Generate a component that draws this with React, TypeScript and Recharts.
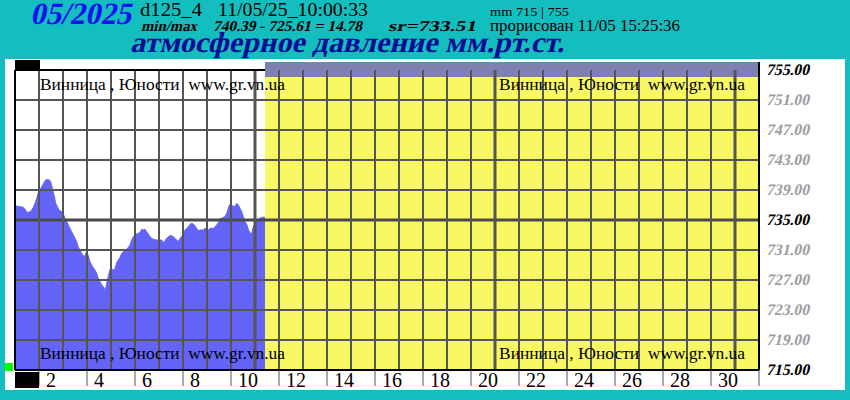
import React from 'react';
import { ComposedChart, Area, XAxis, YAxis, ReferenceArea, ReferenceLine } from 'recharts';

// hours elapsed since 1 May 00:00
const HOURS = [
  1, 5, 8.3, 10, 12.3, 15, 16.7, 18.3, 20, 21.7,
  23.3, 25, 26.7, 28.3, 30, 31.7, 34.3, 35.7, 37.3, 39,
  40.7, 42.3, 44, 46.7, 48.3, 50, 51.7, 53.3, 55, 56.7,
  58.3, 60, 61.7, 63.3, 65, 66.7, 68.3, 70, 71.7, 73.3,
  75, 76.7, 78.3, 80, 81.7, 83.3, 85, 86.7, 88.3, 90.3,
  91.7, 93.3, 95, 96.7, 98.3, 100, 101.7, 103.3, 105, 106.7,
  108.3, 110, 111.7, 113.3, 115, 116.7, 118.3, 120, 121.7, 123.3,
  125, 126.7, 128.3, 130, 131.7, 133.3, 135, 136.7, 138.3, 141.7,
  146.7, 148.3, 150, 151.7, 153.3, 155, 156.7, 158.3, 160, 161.7,
  163.3, 165, 166.7, 168.3, 170, 171.7, 173.3, 175, 176.7, 178.3,
  180, 181.7, 183.3, 185, 188.3, 190, 191.7, 193.3, 195, 198.3,
  200, 201.7, 203.3, 205, 206.7, 208.3, 210, 211.7, 213.3, 215,
  216.7, 218.3, 220, 221.7, 223.3, 225, 226.7, 228.3, 230, 231.7,
  233.3, 235, 236.7, 238.3, 240, 241.7, 243.3, 245, 246.7, 250,
];

// pressure, mm Hg
const PRESSURE = [
  736.87, 736.78, 736.69, 736.42, 735.98, 736.11, 736.33, 736.69, 737.22, 737.89,
  738.64, 739.0, 739.44, 739.8, 740.24, 740.39, 740.35, 740.11, 739.22, 738.33,
  737.22, 736.78, 736.33, 736.11, 735.8, 735.22, 734.78, 734.33, 733.89, 733.44,
  733.0, 732.56, 732.11, 731.36, 731.0, 730.56, 730.2, 730.2, 730.87, 730.2,
  729.44, 729.0, 728.64, 728.33, 727.89, 727.22, 726.78, 726.33, 726.11, 725.61,
  726.56, 727.53, 728.42, 728.47, 728.33, 728.47, 729.31, 729.67, 730.02, 730.56,
  730.78, 731.0, 731.09, 731.36, 731.67, 732.33, 732.78, 733.0, 733.13, 733.22,
  733.31, 733.76, 733.67, 733.76, 733.44, 733.13, 732.78, 732.56, 732.42, 732.33,
  732.33, 731.98, 732.24, 732.56, 732.78, 732.91, 732.91, 732.78, 732.56, 732.33,
  732.11, 732.56, 732.78, 733.22, 733.67, 733.89, 734.11, 734.42, 734.56, 734.47,
  734.2, 733.89, 733.58, 733.67, 733.67, 733.89, 733.76, 733.67, 733.89, 733.89,
  734.11, 734.33, 734.64, 735.22, 735.22, 735.36, 735.44, 735.89, 736.56, 737.13,
  736.87, 736.87, 736.78, 737.22, 737.0, 736.56, 736.11, 735.44, 734.78, 734.42,
  733.76, 733.22, 733.22, 734.11, 734.56, 735.0, 735.09, 735.22, 735.36, 735.36,
];

const DAY_LABELS = [2, 4, 6, 8, 10, 12, 14, 16, 18, 20, 22, 24, 26, 28, 30, 32];
const Y_TICKS = [715, 719, 723, 727, 731, 735, 739, 743, 747, 751, 755];
const Y_STRONG = [715, 735, 755];
const DAY_BOUNDARIES = Array.from({ length: 30 }, (_, i) => i + 1);
const H_GRID = [719, 723, 727, 731, 739, 743, 747, 751];
const MONTH_HOURS = 744;
const LAST_HOUR = 250;
const Y_MIN = 715;
const Y_MAX = 755;
const BAND_TOP = 756.07;
const BAND_BOTTOM = 754.07;
const LOCATION = 'Винница , Юности  www.gr.vn.ua';

const data = HOURS.map((h, i) => ({ h, p: PRESSURE[i] }));

const SERIF = "'Liberation Serif', 'Times New Roman', serif";
const GRID = '#555555';

// bold serif with a synthetic slant (italic look)
const BI = (p: { x: number; y: number; size: number; fill: string; len?: number; children: React.ReactNode }) => (
  <text
    transform={`translate(${p.x},${p.y}) skewX(-13)`}
    x={0}
    y={0}
    fontFamily={SERIF}
    fontSize={p.size}
    fontWeight="bold"
    fill={p.fill}
    textLength={p.len}
    lengthAdjust={p.len ? 'spacingAndGlyphs' : undefined}
  >
    {p.children}
  </text>
);

const XTick = (props: any) => {
  const { x, y, payload } = props;
  const day = payload.value / 24 + 1;
  return (
    <g>
      <line x1={x} x2={x} y1={y} y2={y + 16} stroke={GRID} strokeWidth={1} />
      {day <= 31 && (
        <text x={x + 7} y={y + 16.5} fontFamily={SERIF} fontSize={20} fill="#000">
          {day}
        </text>
      )}
    </g>
  );
};

const YTick = (props: any) => {
  const { x, y, payload } = props;
  const strong = Y_STRONG.includes(payload.value);
  return (
    <BI x={x + 7} y={y + 5} size={16} fill={strong ? '#000' : '#A0A0A0'} len={43}>
      {payload.value.toFixed(2)}
    </BI>
  );
};

export default function App() {
  return (
    <div
      style={{
        position: 'absolute',
        left: 0,
        top: 0,
        width: 850,
        height: 400,
        background: '#14BEBE',
        overflow: 'hidden',
      }}
    >
      <div style={{ position: 'absolute', left: 5, top: 59, width: 840, height: 331, background: '#fff' }} />
      <div style={{ position: 'absolute', left: 0, top: 0 }}>
        <ComposedChart
          width={850}
          height={400}
          data={data}
          margin={{ top: 70, right: 31, bottom: 0, left: 15 }}
        >
          <XAxis
            dataKey="h"
            type="number"
            domain={[0, MONTH_HOURS]}
            ticks={DAY_LABELS.map((d) => (d - 1) * 24)}
            interval={0}
            height={30}
            tickSize={0}
            tickMargin={0}
            tickLine={false}
            axisLine={{ stroke: '#000', strokeWidth: 2 }}
            tick={<XTick />}
            allowDataOverflow
          />
          <YAxis
            orientation="right"
            type="number"
            domain={[Y_MIN, Y_MAX]}
            ticks={Y_TICKS}
            interval={0}
            width={60}
            tickSize={0}
            tickMargin={0}
            tickLine={false}
            axisLine={false}
            tick={<YTick />}
            allowDataOverflow
          />
          <ReferenceArea
            x1={LAST_HOUR}
            x2={MONTH_HOURS}
            y1={Y_MIN}
            y2={Y_MAX}
            fill="#F8F864"
            fillOpacity={1}
            stroke="none"
            ifOverflow="hidden"
          />
          <Area
            dataKey="p"
            type="linear"
            fill="#6464F8"
            fillOpacity={1}
            stroke="#6464F8"
            strokeWidth={1}
            isAnimationActive={false}
            dot={false}
            activeDot={false}
          />
          <ReferenceArea
            x1={LAST_HOUR}
            x2={MONTH_HOURS}
            y1={BAND_BOTTOM}
            y2={BAND_TOP}
            fill="#8080B0"
            fillOpacity={1}
            stroke="none"
            ifOverflow="visible"
          />
          {H_GRID.map((v) => (
            <ReferenceLine
              key={'h' + v}
              segment={[{ x: 0, y: v }, { x: MONTH_HOURS, y: v }]}
              stroke={GRID}
              strokeWidth={2}
            />
          ))}
          <ReferenceLine
            segment={[{ x: 0, y: 735 }, { x: MONTH_HOURS, y: 735 }]}
            stroke="#4A4A4A"
            strokeWidth={3}
          />
          {DAY_BOUNDARIES.map((d) => (
            <ReferenceLine
              key={'v' + d}
              segment={[{ x: d * 24, y: Y_MIN }, { x: d * 24, y: Y_MAX }]}
              stroke={GRID}
              strokeWidth={d % 10 === 0 ? 3 : 2}
            />
          ))}
          <ReferenceLine
            segment={[{ x: 0, y: Y_MAX }, { x: LAST_HOUR, y: Y_MAX }]}
            stroke="#000"
            strokeWidth={2}
          />
          <ReferenceLine
            segment={[{ x: 0, y: Y_MIN }, { x: 0, y: Y_MAX }]}
            stroke="#000"
            strokeWidth={2}
            ifOverflow="visible"
          />
          <ReferenceLine
            segment={[{ x: MONTH_HOURS, y: Y_MIN }, { x: MONTH_HOURS, y: BAND_TOP }]}
            stroke="#000"
            strokeWidth={2}
            ifOverflow="visible"
          />
        </ComposedChart>
      </div>
      <svg
        width={850}
        height={400}
        style={{ position: 'absolute', left: 0, top: 0, pointerEvents: 'none' }}
      >
        <rect x={15} y={60} width={25} height={9} fill="#000" />
        <rect x={15} y={372} width={24} height={16} fill="#000" />
        <rect x={5} y={363} width={8} height={8} fill="#00FF00" />
        <g fontFamily={SERIF}>
          <BI x={30} y={24} size={31} fill="#1414F0" len={101}>05/2025</BI>
          <text x={140} y={16} fontSize={18} fill="#000" textLength={62} lengthAdjust="spacingAndGlyphs">d125_4</text>
          <text x={218} y={16} fontSize={18} fill="#000" textLength={150} lengthAdjust="spacingAndGlyphs">11/05/25_10:00:33</text>
          <BI x={141} y={31} size={15} fill="#000" len={56}>min/max</BI>
          <BI x={213} y={31} size={15} fill="#000" len={149}>740.39 - 725.61 = 14.78</BI>
          <BI x={388} y={31} size={15} fill="#000" len={88}>sr=733.51</BI>
          <text x={490} y={16} fontSize={13} fill="#000" textLength={79} lengthAdjust="spacingAndGlyphs">mm 715 | 755</text>
          <text x={490} y={31} fontSize={16} fill="#000" textLength={190} lengthAdjust="spacingAndGlyphs">прорисован 11/05 15:25:36</text>
          <BI x={130} y={52} size={29} fill="#0C0C96" len={434}>атмосферное давление мм.рт.ст.</BI>
          <text x={40} y={90} fontSize={16} fill="#000" textLength={245} lengthAdjust="spacingAndGlyphs" style={{ whiteSpace: 'pre' }}>{LOCATION}</text>
          <text x={499} y={90} fontSize={16} fill="#000" textLength={246} lengthAdjust="spacingAndGlyphs" style={{ whiteSpace: 'pre' }}>{LOCATION}</text>
          <text x={40} y={359} fontSize={16} fill="#000" textLength={245} lengthAdjust="spacingAndGlyphs" style={{ whiteSpace: 'pre' }}>{LOCATION}</text>
          <text x={499} y={359} fontSize={16} fill="#000" textLength={246} lengthAdjust="spacingAndGlyphs" style={{ whiteSpace: 'pre' }}>{LOCATION}</text>
        </g>
      </svg>
    </div>
  );
}
